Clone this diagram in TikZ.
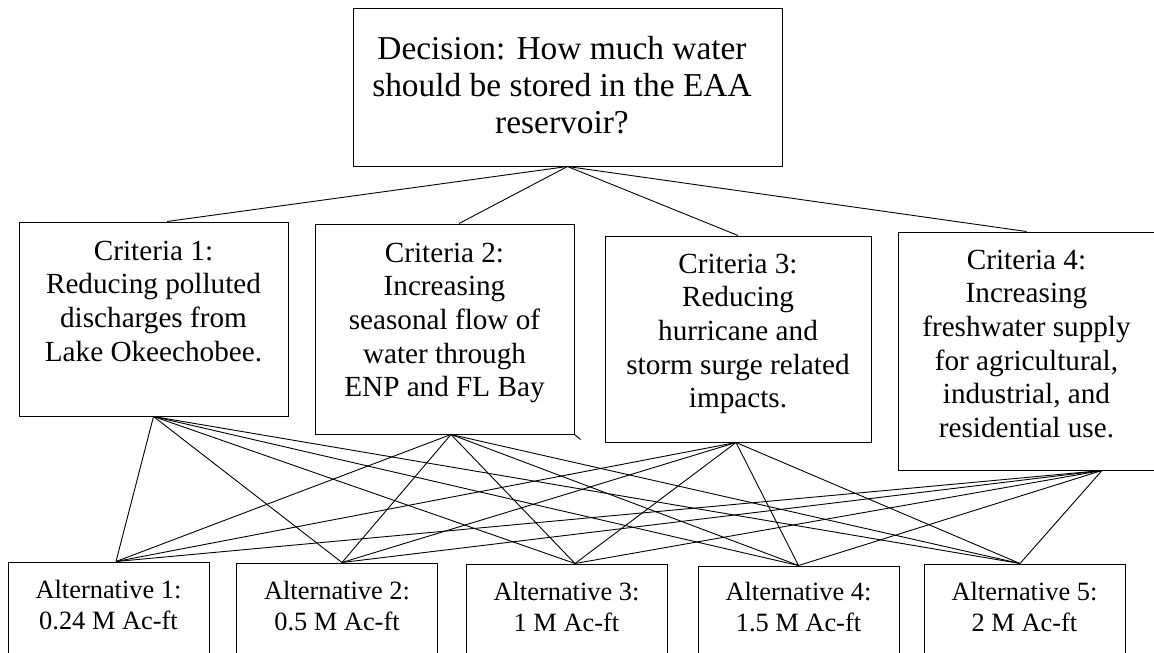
\documentclass[tikz,border=0pt]{standalone}
\usepackage{fontspec}
\setmainfont{Liberation Serif}
\begin{document}
\begin{tikzpicture}[x=1pt,y=-1pt,
  box/.style={draw=black, line width=1pt, inner sep=0pt},
  conn/.style={draw=black, line width=0.9pt},
  txt/.style={anchor=base, inner sep=0pt}]
\useasboundingbox (0,0) rectangle (1154,653);
\clip (0,0) rectangle (1154,653);
\fill[white] (0,0) rectangle (1154,653);

% decision
\node[box, minimum width=429pt, minimum height=158pt] (d) at (567.5,87) {};
\node[txt] (dt) at (562,59) {\parbox[t]{420pt}{\centering\fontsize{33.4}{37}\selectfont Decision: How much water\\should be stored in the EAA\\reservoir?}};

% criteria
\node[box, minimum width=269pt, minimum height=194pt] (c1) at (153.5,319) {};
\node[txt] (c1t) at (153.5,260) {\parbox[t]{265pt}{\centering\fontsize{29.2}{33.7}\selectfont Criteria 1:\\Reducing polluted\\discharges from\\Lake Okeechobee.}};

\node[box, minimum width=259pt, minimum height=210pt] (c2) at (444.5,329) {};
\node[txt] (c2t) at (444.5,262) {\parbox[t]{255pt}{\centering\fontsize{29.2}{33.7}\selectfont Criteria 2:\\Increasing\\seasonal flow of\\water through\\ENP and FL Bay}};

\node[box, minimum width=266pt, minimum height=206pt] (c3) at (738,339) {};
\node[txt] (c3t) at (738,273) {\parbox[t]{262pt}{\centering\fontsize{29.2}{33.7}\selectfont Criteria 3:\\Reducing\\hurricane and\\storm surge related\\impacts.}};

\node[box, minimum width=257pt, minimum height=238pt] (c4) at (1026.5,351) {};
\node[txt] (c4t) at (1026.5,269) {\parbox[t]{253pt}{\centering\fontsize{29.2}{33.7}\selectfont Criteria 4:\\Increasing\\freshwater supply\\for agricultural,\\industrial, and\\residential use.}};

% alternatives
\node[box, minimum width=201pt, minimum height=138pt] (a1) at (108.5,631) {};
\node[txt] (a1t) at (108.5,598) {\parbox[t]{195pt}{\centering\fontsize{26.4}{31}\selectfont Alternative 1:\\0.24 M Ac-ft}};
\node[box, minimum width=201pt, minimum height=138pt] (a2) at (337,632) {};
\node[txt] (a2t) at (337,599) {\parbox[t]{195pt}{\centering\fontsize{26.4}{31}\selectfont Alternative 2:\\0.5 M Ac-ft}};
\node[box, minimum width=201pt, minimum height=138pt] (a3) at (566.5,633) {};
\node[txt] (a3t) at (566.5,600) {\parbox[t]{195pt}{\centering\fontsize{26.4}{31}\selectfont Alternative 3:\\1 M Ac-ft}};
\node[box, minimum width=201pt, minimum height=138pt] (a4) at (798.5,635) {};
\node[txt] (a4t) at (798.5,600) {\parbox[t]{195pt}{\centering\fontsize{26.4}{31}\selectfont Alternative 4:\\1.5 M Ac-ft}};
\node[box, minimum width=201pt, minimum height=138pt] (a5) at (1024.5,633) {};
\node[txt] (a5t) at (1024.5,600) {\parbox[t]{195pt}{\centering\fontsize{26.4}{31}\selectfont Alternative 5:\\2 M Ac-ft}};

% connection points
\coordinate (c1top) at ([xshift=13.5pt]c1.north);
\coordinate (c2top) at ([xshift=14.5pt]c2.north);
\coordinate (c3top) at (c3.north);
\coordinate (c4top) at (c4.north);
\coordinate (c1b) at (c1.south);
\coordinate (c2b) at ([xshift=6.5pt]c2.south);
\coordinate (c3b) at ([xshift=-2pt]c3.south);
\coordinate (c4b) at ([xshift=75.5pt]c4.south);
\coordinate (a1p) at ([xshift=7.5pt]a1.north);
\coordinate (a2p) at ([xshift=5pt]a2.north);
\coordinate (a3p) at ([xshift=8.5pt]a3.north);
\coordinate (a4p) at (a4.north);
\coordinate (a5p) at ([xshift=-4.5pt]a5.north);

\foreach \c in {c1top,c2top,c3top,c4top} \draw[conn] (d.south) -- (\c);
\foreach \c in {c1b,c2b,c3b,c4b}
  \foreach \a in {a1p,a2p,a3p,a4p,a5p}
    \draw[conn] (\c) -- (\a);

% small stray tick at the corner of criteria 2
\coordinate (tickend) at ([shift={(6pt,-5pt)}]c2.south east);
\draw[conn] (c2.south east) -- (tickend);
\end{tikzpicture}
\end{document}
